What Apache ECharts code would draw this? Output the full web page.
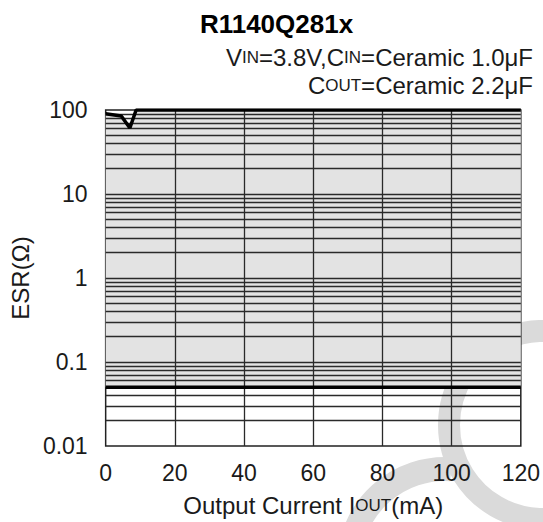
<!DOCTYPE html>
<html><head><meta charset="utf-8">
<script src="https://cdn.jsdelivr.net/npm/echarts@6/dist/echarts.min.js"></script>
<style>html,body{margin:0;padding:0;background:#fff}#c{width:543px;height:522px}</style>
</head><body><div id="c"></div>
<script>
// ---- data ----
const chartTitle = 'R1140Q281x';
const subtitle1 = 'V{s|IN}=3.8V,C{s|IN}=Ceramic 1.0μF';
const subtitle2 = 'C{s|OUT}=Ceramic 2.2μF';
const xAxisName = 'Output Current I{s|OUT}(mA)';
const yAxisName = 'ESR(Ω)';
const xTicks = [0, 20, 40, 60, 80, 100, 120];
const yTicks = [0.01, 0.1, 1, 10, 100];
const yTickLabels = ['0.01', '0.1', '1', '10', '100'];
const xGridLines = [20, 40, 60, 80, 100];
const yGridLines = [0.02,0.03,0.04,0.05,0.06,0.07,0.08,0.09,0.1,
                    0.2,0.3,0.4,0.5,0.6,0.7,0.8,0.9,1,
                    2,3,4,5,6,7,8,9,10,
                    20,30,40,50,60,70,80,90];
// stable-region upper boundary (ESR, ohm) vs output current (mA)
const upperCurrent = [0, 4.5, 7.0, 8.8, 120];
const upperESR = [90, 85, 61, 100, 100];
// stable-region lower boundary
const lowerCurrent = [0, 120];
const lowerESR = [0.05, 0.05];

const FONT = '"Liberation Sans", Arial, sans-serif';
const TXT = '#1a1a1a';

const chart = echarts.init(document.getElementById('c'), null, {renderer: 'svg'});
chart.setOption({
  backgroundColor: '#fff',
  animation: false,
  grid: {left: 103, right: 22, top: 110, bottom: 74, show: true,
         borderColor: '#222', borderWidth: 1.5, backgroundColor: 'transparent'},
  xAxis: {
    type: 'value', min: 0, max: 120, interval: 20,
    axisLine: {show: false}, axisTick: {show: false}, splitLine: {show: false},
    axisLabel: {margin: 15, fontSize: 23, color: TXT, fontFamily: FONT,
      formatter: v => xTicks.includes(v) ? String(v) : ''},
    name: xAxisName, nameLocation: 'middle', nameGap: 47,
    nameTextStyle: {fontSize: 24, color: TXT, fontFamily: FONT,
      rich: {s: {fontSize: 17, color: TXT, fontFamily: FONT}}}
  },
  yAxis: {
    type: 'log', logBase: 10, min: 0.01, max: 100,
    axisLine: {show: false}, axisTick: {show: false}, splitLine: {show: false},
    axisLabel: {margin: 18, fontSize: 23, color: TXT, fontFamily: FONT,
      formatter: v => { const i = yTicks.findIndex(t => Math.abs(Math.log10(t) - Math.log10(v)) < 1e-6); return i >= 0 ? yTickLabels[i] : ''; }},
    name: yAxisName, nameLocation: 'middle', nameGap: 70,
    nameTextStyle: {fontSize: 24, color: TXT, fontFamily: FONT}
  },
  graphic: [
    {type: 'arc', z: -10, silent: true,
     shape: {cx: 445, cy: 565, r: 96, startAngle: Math.PI * 0.5, endAngle: Math.PI * 1.52},
     style: {stroke: '#dadada', lineWidth: 24, fill: null}},
    {type: 'arc', z: -10, silent: true,
     shape: {cx: 543, cy: 425, r: 94, startAngle: 0, endAngle: Math.PI * 2},
     style: {stroke: '#dadada', lineWidth: 22, fill: null}},
    {type: 'text', z: 10, style: {text: chartTitle, x: 276.5, y: 24, align: 'center', verticalAlign: 'middle',
      font: 'bold 26px ' + FONT, fill: '#000'}},
    {type: 'text', z: 10, style: {text: subtitle1, x: 533, y: 57, align: 'right', verticalAlign: 'middle',
      fontSize: 24, fontFamily: FONT, fill: TXT,
      rich: {s: {fontSize: 17, fontFamily: FONT, fill: TXT}}}},
    {type: 'text', z: 10, style: {text: subtitle2, x: 533, y: 85, align: 'right', verticalAlign: 'middle',
      fontSize: 24, fontFamily: FONT, fill: TXT,
      rich: {s: {fontSize: 17, fontFamily: FONT, fill: TXT}}}}
  ],
  series: [
    {
      name: 'stableRegion', type: 'custom', z: 1, silent: true,
      data: [0],
      renderItem: (params, api) => {
        const pts = [];
        upperCurrent.forEach((x, i) => pts.push(api.coord([x, upperESR[i]])));
        for (let i = lowerCurrent.length - 1; i >= 0; i--) pts.push(api.coord([lowerCurrent[i], lowerESR[i]]));
        return {type: 'polygon', shape: {points: pts}, style: {fill: '#e3e3e3', stroke: null}};
      }
    },
    {
      name: 'grid', type: 'line', data: [], z: 5, silent: true,
      markLine: {
        silent: true, symbol: ['none', 'none'], label: {show: false},
        lineStyle: {color: '#2a2a2a', width: 1.3, type: 'solid'},
        data: xGridLines.map(v => ({xAxis: v})).concat(yGridLines.map(v => ({yAxis: v})))
      }
    },
    {
      name: 'upper', type: 'line', z: 6, symbol: 'none', silent: true,
      data: upperCurrent.map((x, i) => [x, upperESR[i]]),
      lineStyle: {color: '#000', width: 3.5}
    },
    {
      name: 'lower', type: 'line', z: 6, symbol: 'none', silent: true,
      data: lowerCurrent.map((x, i) => [x, lowerESR[i]]),
      lineStyle: {color: '#000', width: 3.5}
    }
  ]
});
</script></body></html>
